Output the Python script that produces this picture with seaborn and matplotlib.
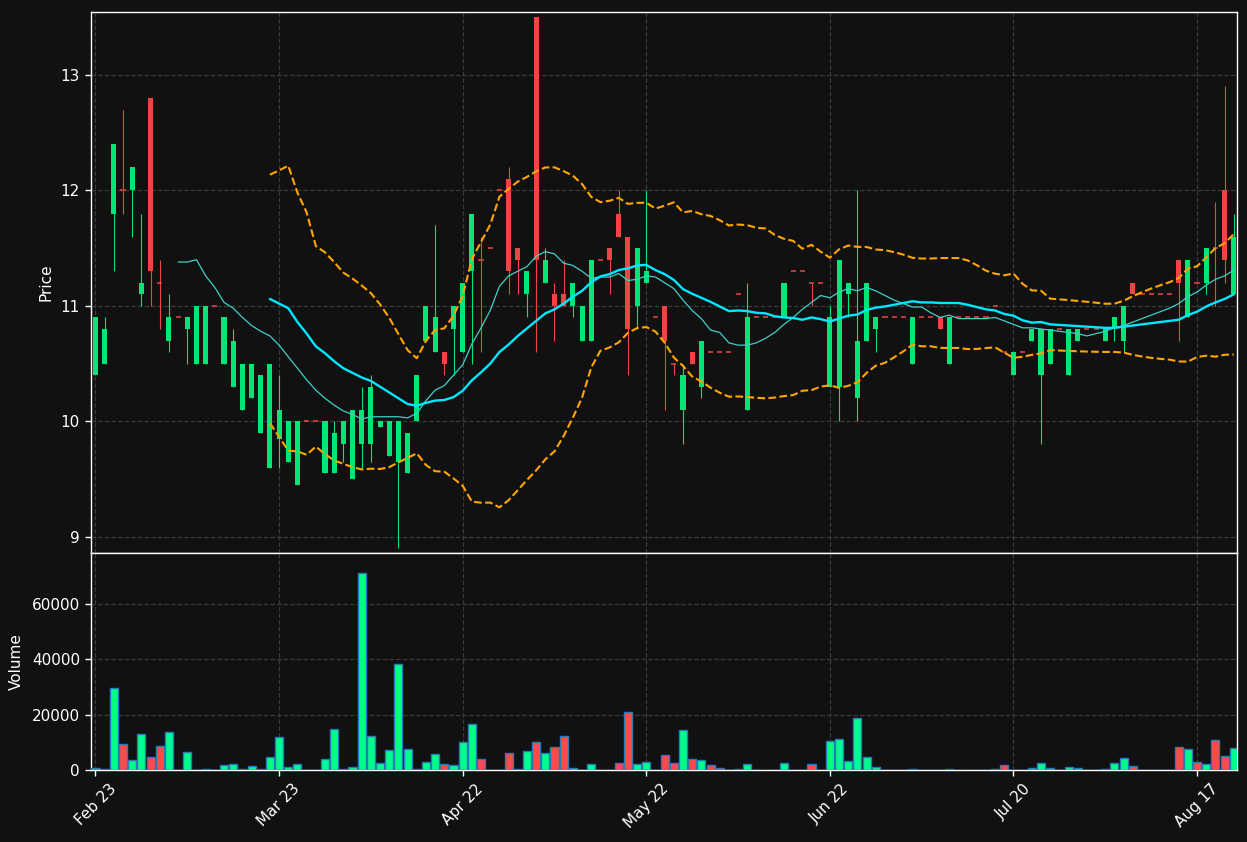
import numpy as np
import pandas as pd
import matplotlib
matplotlib.use("Agg")
import matplotlib.pyplot as plt
import seaborn as sns

sns.set_theme(style="dark")
plt.rcParams["font.family"] = ["DejaVu Sans"]

# ---------------- data ----------------
tick_labels = ["Feb 23", "Mar 23", "Apr 22", "May 22", "Jun 22", "Jul 20", "Aug 17"]
tick_pos = [0, 20, 40, 60, 80, 100, 120]

opens = [10.4, 10.5, 11.8, 12.0, 12.0, 11.1, 12.8, 11.2, 10.7, 10.9,
         10.8, 10.5, 10.5, 11.0, 10.5, 10.3, 10.1, 10.2, 9.9, 9.6,
         9.85, 9.65, 9.45, 10.0, 10.0, 9.55, 9.55, 9.8, 9.5, 9.8,
         9.8, 9.95, 9.7, 9.65, 9.55, 10.0, 10.7, 10.6, 10.6, 10.8,
         10.6, 11.3, 11.4, 11.5, 12.0, 12.1, 11.5, 11.1, 13.5, 11.2,
         11.1, 11.1, 11.0, 10.7, 10.7, 11.4, 11.5, 11.8, 11.6, 11.0,
         11.2, 10.9, 11.0, 10.5, 10.1, 10.6, 10.3, 10.6, 10.6, 10.6,
         11.1, 10.1, 10.9, 10.9, 10.9, 10.9, 11.3, 11.3, 11.2, 11.2,
         10.3, 10.3, 11.1, 10.2, 10.7, 10.8, 10.9, 10.9, 10.9, 10.5,
         10.9, 10.9, 10.9, 10.5, 10.9, 10.9, 10.9, 10.9, 11.0, 10.6,
         10.4, 10.6, 10.7, 10.4, 10.5, 10.8, 10.4, 10.7, 10.8, 10.8,
         10.7, 10.8, 10.7, 11.2, 11.1, 11.1, 11.1, 11.1, 11.4, 10.9,
         11.2, 11.2, 11.5, 12.0, 11.1]

closes = [10.9, 10.8, 12.4, 12.0, 12.2, 11.2, 11.3, 11.2, 10.9, 10.9,
          10.9, 11.0, 11.0, 11.0, 10.9, 10.7, 10.5, 10.5, 10.4, 10.5,
          10.1, 10.0, 10.0, 10.0, 10.0, 10.0, 9.9, 10.0, 10.1, 10.1,
          10.3, 10.0, 10.0, 10.0, 9.9, 10.4, 11.0, 10.9, 10.5, 11.0,
          11.2, 11.8, 11.4, 11.5, 12.0, 11.3, 11.4, 11.3, 11.4, 11.4,
          11.0, 11.0, 11.2, 11.0, 11.4, 11.4, 11.4, 11.6, 10.8, 11.5,
          11.3, 10.9, 10.7, 10.5, 10.4, 10.5, 10.7, 10.6, 10.6, 10.6,
          11.1, 10.9, 10.9, 10.9, 10.9, 11.2, 11.3, 11.3, 11.2, 11.2,
          10.9, 11.4, 11.2, 10.7, 11.2, 10.9, 10.9, 10.9, 10.9, 10.9,
          10.9, 10.9, 10.8, 10.9, 10.9, 10.9, 10.9, 10.9, 11.0, 10.6,
          10.6, 10.6, 10.8, 10.8, 10.8, 10.8, 10.8, 10.8, 10.8, 10.8,
          10.8, 10.9, 11.0, 11.1, 11.1, 11.1, 11.1, 11.1, 11.2, 11.4,
          11.2, 11.5, 11.5, 11.4, 11.6]

highs = [10.9, 10.9, 12.4, 12.7, 12.2, 11.8, 12.8, 11.4, 11.1, 10.9,
         10.9, 11.0, 11.0, 11.0, 10.9, 10.8, 10.5, 10.5, 10.4, 10.5,
         10.4, 10.0, 10.0, 10.0, 10.0, 10.0, 10.0, 10.0, 10.1, 10.3,
         10.4, 10.0, 10.0, 10.0, 9.9, 10.4, 11.0, 11.7, 10.6, 11.0,
         11.2, 11.8, 11.6, 11.5, 12.0, 12.2, 11.5, 11.3, 13.5, 11.5,
         11.2, 11.4, 11.2, 11.0, 11.4, 11.4, 11.5, 12.0, 11.6, 11.5,
         12.0, 10.9, 11.0, 10.5, 10.5, 10.6, 10.7, 10.6, 10.6, 10.6,
         11.1, 11.2, 10.9, 10.9, 10.9, 11.2, 11.3, 11.3, 11.2, 11.2,
         11.0, 11.4, 11.2, 12.0, 11.2, 10.9, 10.9, 10.9, 10.9, 10.9,
         10.9, 10.9, 10.9, 10.9, 10.9, 10.9, 10.9, 10.9, 11.0, 10.6,
         10.6, 10.6, 10.8, 10.8, 10.8, 10.8, 10.8, 10.8, 10.8, 10.8,
         10.8, 10.9, 11.0, 11.2, 11.1, 11.1, 11.1, 11.1, 11.4, 11.4,
         11.2, 11.5, 11.9, 12.9, 11.8]

lows = [10.4, 10.5, 11.3, 11.8, 11.6, 11.0, 11.0, 10.8, 10.6, 10.9,
        10.5, 10.5, 10.5, 11.0, 10.5, 10.3, 10.1, 10.2, 9.9, 9.6,
        9.6, 9.65, 9.45, 10.0, 10.0, 9.55, 9.55, 9.65, 9.5, 9.6,
        9.65, 9.95, 9.7, 8.9, 9.55, 10.0, 10.7, 10.6, 10.4, 10.4,
        10.6, 10.5, 10.6, 11.5, 12.0, 11.1, 11.1, 10.9, 10.6, 11.2,
        10.7, 11.0, 10.9, 10.7, 10.7, 11.4, 11.1, 11.6, 10.4, 10.8,
        11.2, 10.9, 10.1, 10.4, 9.8, 10.5, 10.2, 10.6, 10.6, 10.6,
        11.1, 10.1, 10.9, 10.9, 10.9, 10.9, 11.3, 11.3, 11.0, 11.2,
        10.3, 10.0, 10.9, 10.0, 10.7, 10.6, 10.9, 10.9, 10.9, 10.5,
        10.9, 10.9, 10.8, 10.5, 10.9, 10.9, 10.9, 10.9, 11.0, 10.6,
        10.4, 10.6, 10.7, 9.8, 10.5, 10.8, 10.4, 10.7, 10.8, 10.8,
        10.7, 10.7, 10.6, 11.1, 11.1, 11.1, 11.1, 11.1, 10.7, 10.9,
        11.2, 11.1, 11.0, 11.2, 11.1]

volumes = [840, 500, 29500, 9300, 3500, 12900, 4600, 8550, 13600, 0,
           6400, 0, 250, 0, 1700, 2050, 200, 1300, 250, 4600,
           11800, 960, 2050, 0, 0, 3860, 14700, 240, 960, 71200,
           12200, 2400, 7100, 38200, 7470, 240, 2770, 5660, 2050, 1690,
           10000, 16600, 4100, 0, 0, 6000, 240, 6750, 10000, 6000,
           8200, 12200, 600, 0, 2050, 0, 0, 2400, 20800, 2050,
           2770, 0, 5300, 2400, 14300, 4100, 3500, 1690, 600, 0,
           240, 2050, 0, 0, 0, 2400, 0, 0, 2050, 0,
           10360, 11100, 3130, 18700, 4580, 960, 0, 0, 0, 240,
           0, 0, 0, 240, 0, 0, 0, 0, 240, 1690,
           0, 0, 600, 2400, 600, 0, 960, 600, 0, 0,
           240, 2400, 4200, 1300, 0, 0, 0, 0, 8200, 7470,
           2770, 2050, 10700, 4940, 7830]

# ---------------- styling ----------------
BG = "#111111"
UP = "#00e676"
DOWN = "#ef4444"
VUP = "#00ff88"
VDOWN = "#ff4a4a"
GRID = "#3a3a3a"

df = pd.DataFrame({"open": opens, "high": highs, "low": lows,
                   "close": closes, "volume": volumes})
df["i"] = np.arange(len(df))
df["ma10"] = df["close"].rolling(10).mean()
df["ma20"] = df["close"].rolling(20).mean()
sd = df["close"].rolling(20).std(ddof=0)
df["upper"] = df["ma20"] + 2 * sd
df["lower"] = df["ma20"] - 2 * sd

up = df["close"] > df["open"]
ccol = np.where(up, UP, DOWN)
vcol = np.where(up, VUP, VDOWN)

W, H = 1247, 842
fig = plt.figure(figsize=(W / 100, H / 100), dpi=100, facecolor=BG)
L, R = 91, 1237
ax = fig.add_axes([L / W, 1 - 553 / H, (R - L) / W, (553 - 12) / H])
axv = fig.add_axes([L / W, 1 - 770 / H, (R - L) / W, (770 - 553) / H], sharex=ax)

for a in (ax, axv):
    a.set_facecolor(BG)
    for s in a.spines.values():
        s.set_color("white")
        s.set_linewidth(1.0)
        s.set_visible(True)
    a.grid(True, linestyle="--", color=GRID, linewidth=0.9)
    a.set_axisbelow(True)
    a.tick_params(colors="white", labelcolor="white", labelsize=11,
                  length=4, width=1, direction="out", pad=4,
                  left=True, bottom=True)

# candles
x = df["i"].values
ax.vlines(x, df["low"], df["high"], colors=ccol, linewidth=0.8, zorder=2)
body_lo = np.minimum(df["open"], df["close"])
body_h = (df["close"] - df["open"]).abs()
ax.bar(x, body_h, bottom=body_lo, width=0.55, color=ccol, linewidth=0, zorder=3)
doji = df["open"] == df["close"]
ax.hlines(df.loc[doji, "open"], x[doji] - 0.28, x[doji] + 0.28,
          colors=DOWN, linewidth=1.1, zorder=3)

# moving averages and bands
m10 = df.dropna(subset=["ma10"])
m20 = df.dropna(subset=["ma20"])
sns.lineplot(data=m10, x="i", y="ma10", ax=ax, color="#3fd0c8", linewidth=0.9, zorder=4)
sns.lineplot(data=m20, x="i", y="ma20", ax=ax, color="#00e8ff", linewidth=1.7, zorder=4)
sns.lineplot(data=m20, x="i", y="upper", ax=ax, color="#ffa500", linewidth=1.5,
             linestyle="--", zorder=4)
sns.lineplot(data=m20, x="i", y="lower", ax=ax, color="#ffa500", linewidth=1.5,
             linestyle="--", zorder=4)

# volume
axv.bar(x, df["volume"], width=0.88, color=vcol, edgecolor="#2a78b8",
        linewidth=1.0, zorder=3)

ax.set_xlim(-0.49, 124.35)
ax.set_ylim(8.86, 13.545)
axv.set_ylim(0, 78300)

ax.set_yticks([9, 10, 11, 12, 13])
ax.set_yticklabels(["9", "10", "11", "12", "13"])
axv.set_yticks([0, 20000, 40000, 60000])
axv.set_yticklabels(["0", "20000", "40000", "60000"])
axv.set_xticks(tick_pos)
axv.set_xticklabels(tick_labels, rotation=45, ha="center")
ax.tick_params(axis="x", labelbottom=False, length=0)

ax.set_xlabel("")
axv.set_xlabel("")
ax.set_ylabel("Price", color="white", fontsize=11)
axv.set_ylabel("Volume", color="white", fontsize=11)
ax.yaxis.set_label_coords((54 - L) / (R - L), 0.5)
axv.yaxis.set_label_coords((24 - L) / (R - L), 0.5)

fig.savefig("out.png", dpi=100, facecolor=BG)
